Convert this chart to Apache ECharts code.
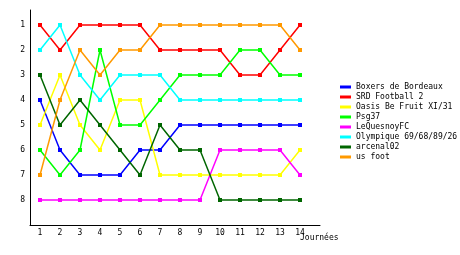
<!DOCTYPE html>
<html><head><meta charset="utf-8">
<script src="https://cdn.jsdelivr.net/npm/echarts@6/dist/echarts.min.js"></script>
<style>html,body{margin:0;padding:0;background:#fff}#c{width:460px;height:255px}</style>
</head><body><div id="c"></div>
<script>
var journees = [1,2,3,4,5,6,7,8,9,10,11,12,13,14];
var rankTicks = [1,2,3,4,5,6,7,8];
var teams = ["Boxers de Bordeaux","SRD Football 2","Oasis Be Fruit XI/31","Psg37","LeQuesnoyFC","Olympique 69/68/89/26","arcenal02","us foot"];
var colors = ["#0000ff","#ff0000","#ffff00","#00ff00","#ff00ff","#00ffff","#006600","#ff9900"];
var boxers    = [4,6,7,7,7,6,6,5,5,5,5,5,5,5];
var srd       = [1,2,1,1,1,1,2,2,2,2,3,3,2,1];
var oasis     = [5,3,5,6,4,4,7,7,7,7,7,7,7,6];
var psg37     = [6,7,6,2,5,5,4,3,3,3,2,2,3,3];
var lequesnoy = [8,8,8,8,8,8,8,8,8,6,6,6,6,7];
var olympique = [2,1,3,4,3,3,3,4,4,4,4,4,4,4];
var arcenal   = [3,5,4,5,6,7,5,6,6,8,8,8,8,8];
var usfoot    = [7,4,2,3,2,2,1,1,1,1,1,1,1,2];
var seriesData = [boxers,srd,oasis,psg37,lequesnoy,olympique,arcenal,usfoot];
var FONT = "DejaVu Sans Mono";
var chart = echarts.init(document.getElementById('c'), null, {renderer:'canvas'});
chart.setOption({
  animation:false,
  backgroundColor:'#fff',
  grid:{left:30,top:10,right:140,bottom:30},
  legend:{
    orient:'vertical', left:340, top:82, padding:0,
    itemWidth:11, itemHeight:3, itemGap:0, icon:'rect',
    textStyle:{fontFamily:FONT,fontSize:8,color:'#000',lineHeight:10},
    data:teams
  },
  xAxis:{
    type:'value', min:0.5, max:15,
    axisLine:{lineStyle:{color:'#000',width:1}},
    axisTick:{show:false},
    splitLine:{show:false},
    axisLabel:{customValues:journees, color:'#000', fontFamily:FONT, fontSize:8, margin:4}
  },
  yAxis:{
    type:'value', inverse:true, min:0.4, max:9,
    axisLine:{show:true,lineStyle:{color:'#000',width:1}},
    axisTick:{show:false},
    splitLine:{show:false},
    axisLabel:{customValues:rankTicks, color:'#000', fontFamily:FONT, fontSize:8, margin:5}
  },
  graphic:[{type:'text',left:300,top:234,style:{text:'Journées',fontFamily:FONT,fontSize:8,fill:'#000'}}],
  series: teams.map(function(t,i){
    return {
      name:t, type:'line', color:colors[i],
      data: journees.map(function(j,k){return [j, seriesData[i][k]];}),
      symbol:'rect', symbolSize:4, showSymbol:true,
      lineStyle:{width:1.5,color:colors[i]},
      itemStyle:{color:colors[i]},
      emphasis:{disabled:true}
    };
  })
});
</script></body></html>
